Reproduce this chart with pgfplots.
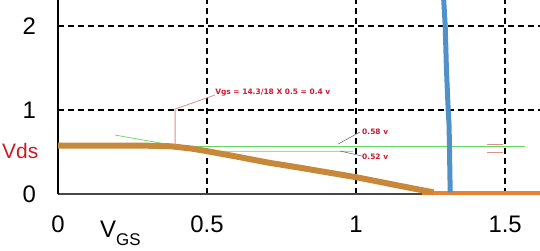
\documentclass[border=0pt]{standalone}
\usepackage{pgfplots}
\pgfplotsset{compat=1.18}
\usepackage{fontspec}
\setmainfont{Liberation Sans}
\newfontfamily\dv{DejaVu Sans}
\definecolor{gold}{RGB}{200,136,58}
\definecolor{orng}{RGB}{234,130,50}
\definecolor{blu}{RGB}{80,145,200}
\definecolor{grn}{RGB}{100,215,100}
\definecolor{salm}{RGB}{215,145,135}
\definecolor{ared}{RGB}{205,25,50}
\definecolor{vred}{RGB}{210,25,35}
\begin{document}
\begin{tikzpicture}
\path[use as bounding box] (-58bp,-57bp) rectangle (482bp,194bp);
\begin{axis}[
  at={(0,0)}, anchor=origin,
  scale only axis, width=482bp, height=194bp,
  xmin=0, xmax=1.617, ymin=0, ymax=2.31,
  clip=false,
  axis x line*=bottom, axis y line*=left,
  x axis line style={draw=black!72, line width=1.4bp, -},
  y axis line style={draw=black, line width=1.4bp, -},
  xtick={0,0.5,1,1.5}, xticklabels={0,0.5,1,1.5},
  ytick={0,1,2}, yticklabels={0,1,2},
  major tick length=0pt,
  xticklabel style={inner sep=0pt, yshift=-22bp, font=\fontsize{24}{24}\selectfont},
  yticklabel style={inner sep=0pt, xshift=-22bp, font=\fontsize{24}{24}\selectfont},
  grid=major,
  major grid style={draw=black, line width=1.4bp, dash pattern=on 6bp off 4bp},
]
% green construction lines
\addplot[grn, line width=0.7bp] coordinates {(0.191,0.702) (0.5,0.51) (0.99,0.51)};
\addplot[grn, line width=0.7bp] coordinates {(0.45,0.571) (1.567,0.571)};
% orange curve
\addplot[orng, line width=4.5bp] coordinates {(1.22,0.012) (1.617,0.012)};
\addplot[gold, line width=6bp] coordinates {
(0,0.575) (0.3,0.575) (0.38,0.568) (0.45,0.54) (0.5,0.51) (0.6,0.445) (0.711,0.37)
(0.8,0.32) (0.9,0.26) (1.0,0.2) (1.1,0.13) (1.2,0.06) (1.26,0.02)};
% blue line
\addplot[blu, line width=5bp] coordinates {
(1.316,0.02) (1.315,0.17) (1.312,0.82) (1.309,1.0) (1.303,1.5) (1.299,2.0) (1.294,2.31)};
% annotation lines
\addplot[salm, line width=0.8bp] coordinates {(0.393,0.583) (0.393,1.012) (0.527,1.179)};
\addplot[black!55, line width=0.6bp] coordinates {(0.94,0.595) (1.013,0.738)};
\addplot[black!55, line width=0.6bp] coordinates {(0.946,0.512) (1.02,0.452)};
\addplot[salm, line width=0.8bp] coordinates {(1.44,0.595) (1.493,0.595)};
\addplot[salm, line width=0.8bp] coordinates {(1.44,0.5) (1.493,0.5)};
% texts
\node[anchor=west, inner sep=0pt, text=ared, font=\dv\bfseries\fontsize{7.5}{7.5}\selectfont] at (axis cs:0.527,1.214) {Vgs = 14.3/18 X 0.5 = 0.4 v};
\node[anchor=west, inner sep=0pt, text=ared, font=\dv\bfseries\fontsize{7.5}{7.5}\selectfont] at (axis cs:1.02,0.738) {0.58 v};
\node[anchor=west, inner sep=0pt, text=ared, font=\dv\bfseries\fontsize{7.5}{7.5}\selectfont] at (axis cs:1.02,0.44) {0.52 v};
\node[anchor=base west, inner sep=0pt, text=vred, font=\fontsize{21}{21}\selectfont] at (axis cs:0,0) [xshift=-56bp, yshift=36bp] {Vds};
\node[anchor=base west, inner sep=0pt, font=\fontsize{24}{24}\selectfont] at (axis cs:0.141,0) [yshift=-43bp] {V\raisebox{-8bp}{\fontsize{17}{17}\selectfont GS}};
\end{axis}
\end{tikzpicture}
\end{document}
